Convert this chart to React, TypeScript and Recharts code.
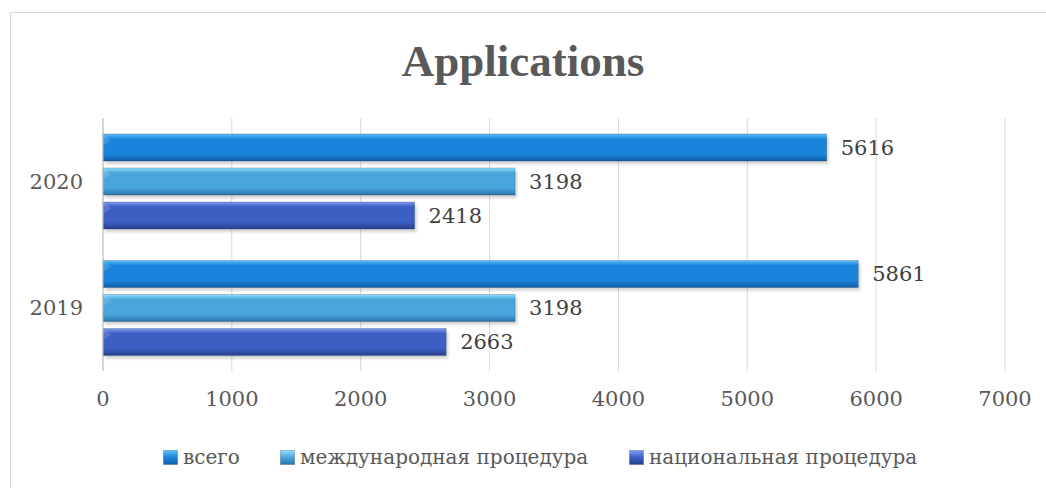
import { BarChart, Bar, XAxis, YAxis, CartesianGrid, LabelList } from 'recharts';

const years = ['2020', '2019'];
const total = [5616, 5861];
const international = [3198, 3198];
const national = [2418, 2663];
const xTicks = [0, 1000, 2000, 3000, 4000, 5000, 6000, 7000];

const seriesNames = ['всего', 'международная процедура', 'национальная процедура'];

const data = years.map((y, i) => ({
  year: y,
  total: total[i],
  international: international[i],
  national: national[i],
}));

const FONT = '"DejaVu Serif", "Liberation Serif", serif';
const TITLE_FONT = '"Liberation Serif", serif';

const palettes = [
  { id: 'gTotal', top: '#5cc0fa', mid: '#1a84dc', bot: '#0f5ea8' },
  { id: 'gIntl', top: '#8fe0fb', mid: '#48a6dc', bot: '#2a74a8' },
  { id: 'gNat', top: '#7d9cf0', mid: '#3c5fc4', bot: '#263f8a' },
];

function GlossBar(props: any) {
  const { x, y, width, height, gid } = props;
  if (!width || width <= 0) return null;
  return (
    <g>
      <rect x={x + 2} y={y + 3} width={width} height={height} fill="#000" opacity={0.18} filter="url(#soft)" />
      <rect x={x} y={y} width={width} height={height} fill={`url(#${gid})`} />
      <polygon points={`${x},${y} ${x + 8},${y + 6} ${x},${y + 12}`} fill="#ffffff" opacity={0.15} />
      <rect x={x} y={y} width={width} height={height} fill="none" stroke="#1c3a66" strokeOpacity={0.35} strokeWidth={0.8} />
    </g>
  );
}

function LegendSquare({ gid }: { gid: string }) {
  const p = palettes.find(q => q.id === gid)!;
  return (
    <svg width={15} height={15} style={{ marginRight: 5 }}>
      <defs>
        <linearGradient id={gid + 'L'} x1="0" y1="0" x2="0" y2="1">
          <stop offset="0%" stopColor={p.top} />
          <stop offset="50%" stopColor={p.mid} />
          <stop offset="100%" stopColor={p.bot} />
        </linearGradient>
      </defs>
      <rect x={0.5} y={0.5} width={14} height={14} fill={`url(#${gid}L)`} stroke="#1c3a66" strokeOpacity={0.3} />
    </svg>
  );
}

export default function App() {
  const legendX = [163, 280, 629];
  return (
    <div style={{ position: 'absolute', left: 0, top: 0, width: 1046, height: 488, background: '#fff', overflow: 'hidden', fontFamily: FONT }}>
      <div style={{ position: 'absolute', left: 10, top: 12, width: 1100, height: 600, border: '1px solid #d9d9d9' }} />
      <div style={{ position: 'absolute', left: 0, width: 1046, top: 35, textAlign: 'center', fontSize: 45, fontWeight: 'bold', color: '#595959', lineHeight: '52px', fontFamily: TITLE_FONT }}>
        Applications
      </div>
      <div style={{ position: 'absolute', left: 0, top: 0 }}>
        <BarChart
          width={1046}
          height={488}
          data={data}
          layout="vertical"
          margin={{ top: 118, right: 41, bottom: 77, left: 43 }}
          barSize={27}
          barGap={7}
          barCategoryGap={16}
        >
          <defs>
            {palettes.map(p => (
              <linearGradient key={p.id} id={p.id} x1="0" y1="0" x2="0" y2="1">
                <stop offset="0%" stopColor={p.top} />
                <stop offset="18%" stopColor={p.mid} />
                <stop offset="75%" stopColor={p.mid} />
                <stop offset="100%" stopColor={p.bot} />
              </linearGradient>
            ))}
            <filter id="soft" x="-5%" y="-30%" width="110%" height="160%">
              <feGaussianBlur stdDeviation="1.5" />
            </filter>
          </defs>
          <CartesianGrid vertical horizontal={false} stroke="#d9d9d9" />
          <XAxis
            type="number"
            domain={[0, 7000]}
            ticks={xTicks}
            axisLine={false}
            tickLine={false}
            height={40}
            tick={{ fontSize: 21, fill: '#595959', fontFamily: FONT, dy: 12 }}
          />
          <YAxis
            type="category"
            dataKey="year"
            width={60}
            axisLine={{ stroke: '#bfbfbf' }}
            tickLine={false}
            tick={{ fontSize: 21, fill: '#595959', fontFamily: FONT, dx: -12 }}
          />
          <Bar dataKey="total" isAnimationActive={false} shape={(p: any) => <GlossBar {...p} gid="gTotal" />}>
            <LabelList dataKey="total" position="right" offset={14} style={{ fontSize: 21, fill: '#404040', fontFamily: FONT }} />
          </Bar>
          <Bar dataKey="international" isAnimationActive={false} shape={(p: any) => <GlossBar {...p} gid="gIntl" />}>
            <LabelList dataKey="international" position="right" offset={14} style={{ fontSize: 21, fill: '#404040', fontFamily: FONT }} />
          </Bar>
          <Bar dataKey="national" isAnimationActive={false} shape={(p: any) => <GlossBar {...p} gid="gNat" />}>
            <LabelList dataKey="national" position="right" offset={14} style={{ fontSize: 21, fill: '#404040', fontFamily: FONT }} />
          </Bar>
        </BarChart>
      </div>
      {seriesNames.map((name, i) => (
        <div key={name} style={{ position: 'absolute', left: legendX[i], top: 445, display: 'flex', alignItems: 'center', fontSize: 20, color: '#595959', whiteSpace: 'nowrap' }}>
          <LegendSquare gid={palettes[i].id} />
          <span>{name}</span>
        </div>
      ))}
    </div>
  );
}
